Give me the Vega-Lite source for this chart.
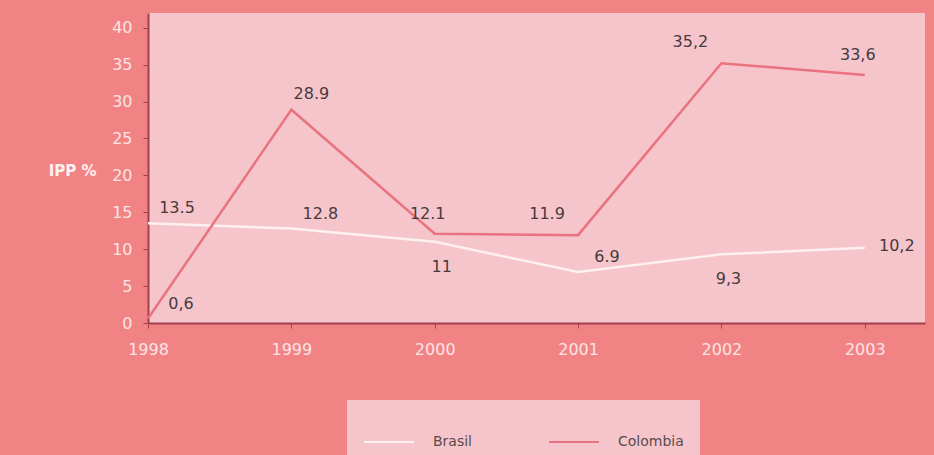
{
  "$schema": "https://vega.github.io/schema/vega-lite/v6.json",
  "width": 777,
  "height": 310,
  "autosize": {"type": "none"},
  "padding": {"left": 148, "top": 13, "right": 9, "bottom": 132},
  "background": "#f18384",
  "view": {"fill": "#f6c5cb", "stroke": null},
  "config": {
    "font": "DejaVu Sans",
    "axis": {
      "domainColor": "#a2404c",
      "domainWidth": 2,
      "tickColor": "#a2404c",
      "grid": false,
      "labelColor": "#fbe4e6",
      "labelFontSize": 16,
      "labelFont": "DejaVu Sans"
    },
    "text": {"font": "DejaVu Sans", "fontSize": 16, "color": "#463a3d"}
  },
  "data": {
    "values": [
      {"year": 1998, "country": "Brasil", "ipp": 13.5, "label": "13.5"},
      {"year": 1999, "country": "Brasil", "ipp": 12.8, "label": "12.8"},
      {"year": 2000, "country": "Brasil", "ipp": 11.0, "label": "11"},
      {"year": 2001, "country": "Brasil", "ipp": 6.9, "label": "6.9"},
      {"year": 2002, "country": "Brasil", "ipp": 9.3, "label": "9,3"},
      {"year": 2003, "country": "Brasil", "ipp": 10.2, "label": "10,2"},
      {"year": 1998, "country": "Colombia", "ipp": 0.6, "label": "0,6"},
      {"year": 1999, "country": "Colombia", "ipp": 28.9, "label": "28.9"},
      {"year": 2000, "country": "Colombia", "ipp": 12.1, "label": "12.1"},
      {"year": 2001, "country": "Colombia", "ipp": 11.9, "label": "11.9"},
      {"year": 2002, "country": "Colombia", "ipp": 35.2, "label": "35,2"},
      {"year": 2003, "country": "Colombia", "ipp": 33.6, "label": "33,6"}
    ]
  },
  "encoding": {
    "x": {
      "field": "year",
      "type": "quantitative",
      "scale": {"domain": [1998, 2003.42], "nice": false, "zero": false},
      "axis": {
        "title": null,
        "values": [1998, 1999, 2000, 2001, 2002, 2003],
        "format": "d",
        "tickSize": 5,
        "labelPadding": 13,
        "labelFlush": false
      }
    },
    "y": {
      "field": "ipp",
      "type": "quantitative",
      "scale": {"domain": [0, 42], "nice": false},
      "axis": {
        "title": "IPP %",
        "values": [0, 5, 10, 15, 20, 25, 30, 35, 40],
        "tickSize": 5,
        "labelPadding": 11,
        "titleAngle": 0,
        "titleAlign": "right",
        "titleBaseline": "middle",
        "titleX": -52,
        "titleY": 157,
        "titleColor": "#fdf0f1",
        "titleFontSize": 15,
        "titleFontWeight": "bold"
      }
    }
  },
  "layer": [
    {
      "mark": {"type": "line", "strokeWidth": 2.5},
      "encoding": {
        "color": {
          "field": "country",
          "type": "nominal",
          "scale": {"domain": ["Brasil", "Colombia"], "range": ["#fdf0f1", "#e9737f"]},
          "legend": {
            "title": null,
            "orient": "none",
            "direction": "horizontal",
            "legendX": 199,
            "legendY": 387,
            "fillColor": "#f6c5cb",
            "padding": 16,
            "symbolType": "stroke",
            "symbolSize": 2500,
            "symbolStrokeWidth": 2,
            "labelFont": "DejaVu Sans",
            "labelFontSize": 14,
            "labelColor": "#5a4a4c",
            "labelOffset": 18,
            "columnPadding": 72
          }
        }
      }
    },
    {
      "transform": [{"filter": "datum.country === 'Colombia' && (datum.year === 2000 || datum.year === 2003)"}],
      "mark": {"type": "text", "dx": -7, "dy": -20},
      "encoding": {"text": {"field": "label"}}
    },
    {
      "transform": [{"filter": "datum.country === 'Colombia' && (datum.year === 2001 || datum.year === 2002)"}],
      "mark": {"type": "text", "dx": -31, "dy": -21},
      "encoding": {"text": {"field": "label"}}
    },
    {
      "transform": [{"filter": "datum.country === 'Colombia' && datum.year === 1999"}],
      "mark": {"type": "text", "dx": 20, "dy": -16},
      "encoding": {"text": {"field": "label"}}
    },
    {
      "transform": [{"filter": "datum.country === 'Colombia' && datum.year === 1998"}],
      "mark": {"type": "text", "dx": 33, "dy": -15},
      "encoding": {"text": {"field": "label"}}
    },
    {
      "transform": [{"filter": "datum.country === 'Brasil' && (datum.year === 1998 || datum.year === 1999 || datum.year === 2001)"}],
      "mark": {"type": "text", "dx": 29, "dy": -15},
      "encoding": {"text": {"field": "label"}}
    },
    {
      "transform": [{"filter": "datum.country === 'Brasil' && datum.year === 2003"}],
      "mark": {"type": "text", "dx": 32, "dy": -2},
      "encoding": {"text": {"field": "label"}}
    },
    {
      "transform": [{"filter": "datum.country === 'Brasil' && (datum.year === 2000 || datum.year === 2002)"}],
      "mark": {"type": "text", "dx": 7, "dy": 25},
      "encoding": {"text": {"field": "label"}}
    }
  ]
}
